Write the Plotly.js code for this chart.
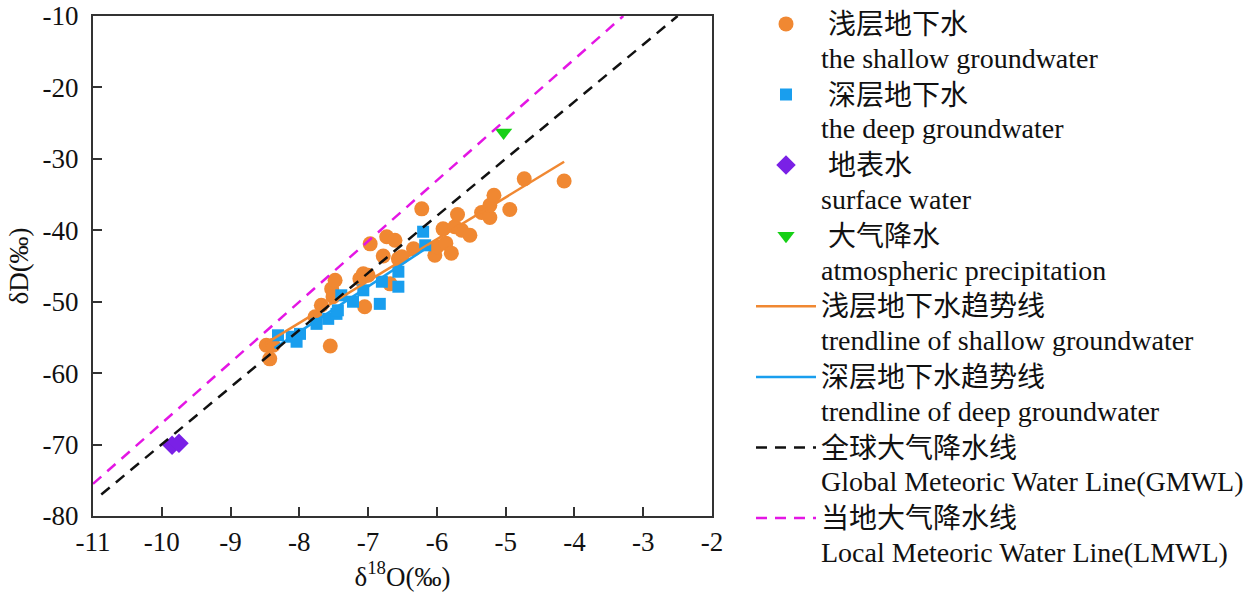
<!DOCTYPE html>
<html>
<head>
<meta charset="utf-8">
<script src="https://cdn.plot.ly/plotly-3.0.1.min.js"></script>
<style>
  html, body { margin: 0; padding: 0; background: #fff; }
  #chart { width: 1259px; height: 592px; }
</style>
</head>
<body>
<div id="chart"></div>
<script>
// ---- data (δ18O ‰, δD ‰) ----
const shallowX = [-8.48, -8.38, -8.43, -7.55, -7.77, -7.68, -7.53, -7.51, -7.48, -7.05,
                  -7.07, -7.00, -7.12, -6.97, -6.73, -6.61, -6.78, -6.56, -6.68, -6.22,
                  -6.34, -6.51, -6.03, -6.00, -5.87, -5.79, -5.91, -5.74, -5.64, -5.52,
                  -5.70, -5.35, -5.23, -5.23, -5.17, -4.94, -4.73, -4.15];
const shallowY = [-56.1, -56.1, -58.0, -56.2, -52.1, -50.5, -48.2, -49.3, -47.0, -50.7,
                  -46.1, -46.3, -46.8, -41.9, -40.9, -41.4, -43.6, -44.0, -47.5, -37.0,
                  -42.6, -43.7, -43.5, -42.3, -41.8, -43.2, -39.8, -39.5, -40.0, -40.7,
                  -37.8, -37.5, -38.2, -36.5, -35.1, -37.1, -32.8, -33.1];
const deepX = [-8.31, -8.11, -8.04, -7.99, -7.75, -7.58, -7.46, -7.44, -7.39, -7.22,
               -7.07, -6.83, -6.80, -6.56, -6.56, -6.20, -6.17];
const deepY = [-54.7, -54.9, -55.6, -54.5, -53.1, -52.4, -51.7, -51.2, -49.1, -50.0,
               -48.4, -50.3, -47.2, -47.9, -45.8, -40.2, -42.1];
const surfaceX = [-9.85, -9.75];
const surfaceY = [-70.1, -69.8];
const precipX = [-5.03];
const precipY = [-26.3];
const shallowTrendX = [-8.50, -4.15];
const shallowTrendY = [-55.9, -30.4];
const deepTrendX = [-8.36, -6.12];
const deepTrendY = [-56.5, -42.3];
const gmwlX = [-10.88, -2.50];
const gmwlY = [-77.0, -10.0];
const lmwlX = [-11.0, -3.29];
const lmwlY = [-75.5, -10.0];

const names = [
  ['浅层地下水', 'the shallow groundwater'],
  ['深层地下水', 'the deep groundwater'],
  ['地表水', 'surface water'],
  ['大气降水', 'atmospheric precipitation'],
  ['浅层地下水趋势线', 'trendline of shallow groundwater'],
  ['深层地下水趋势线', 'trendline of deep groundwater'],
  ['全球大气降水线', 'Global Meteoric Water Line(GMWL)'],
  ['当地大气降水线', 'Local Meteoric Water Line(LMWL)']
];
const xTicks = [-11, -10, -9, -8, -7, -6, -5, -4, -3, -2];
const yTicks = [-80, -70, -60, -50, -40, -30, -20, -10];

const cOrange = 'rgb(240,136,50)';
const cBlue = 'rgb(25,158,238)';
const cPurple = 'rgb(122,32,230)';
const cGreen = 'rgb(22,208,22)';
const cMagenta = 'rgb(228,22,228)';

function label(i, pad) {
  return '<span style="font-size:28px">' + pad + names[i][0] + '</span><br>' +
         '<span style="font-size:28px">' + names[i][1] + '</span>';
}

const traces = [
  { x: shallowX, y: shallowY, type: 'scatter', mode: 'markers', name: label(0, ' '),
    marker: { symbol: 'circle', size: 15, color: cOrange } },
  { x: deepX, y: deepY, type: 'scatter', mode: 'markers', name: label(1, ' '),
    marker: { symbol: 'square', size: 12, color: cBlue } },
  { x: surfaceX, y: surfaceY, type: 'scatter', mode: 'markers', name: label(2, ' '),
    marker: { symbol: 'diamond', size: 15, color: cPurple } },
  { x: precipX, y: precipY, type: 'scatter', mode: 'markers', name: label(3, ' '),
    marker: { symbol: 'triangle-down', size: 15, color: cGreen } },
  { x: shallowTrendX, y: shallowTrendY, type: 'scatter', mode: 'lines', name: label(4, ''),
    line: { color: cOrange, width: 2.5 } },
  { x: deepTrendX, y: deepTrendY, type: 'scatter', mode: 'lines', name: label(5, ''),
    line: { color: cBlue, width: 2.5 } },
  { x: gmwlX, y: gmwlY, type: 'scatter', mode: 'lines', name: label(6, ''),
    line: { color: '#111', width: 2.5, dash: '11px,8px' } },
  { x: lmwlX, y: lmwlY, type: 'scatter', mode: 'lines', name: label(7, ''),
    line: { color: cMagenta, width: 2.5, dash: '11px,8px' } }
];

const fontFam = '"Liberation Serif", "Times New Roman", "Noto Sans CJK SC", serif';

const axisCommon = {
  showgrid: false, zeroline: false,
  showline: true, linecolor: '#333', linewidth: 2, mirror: true,
  ticks: 'inside', ticklen: 9, tickwidth: 2, tickcolor: '#333',
  tickfont: { family: fontFam, size: 27, color: '#111' }
};

const layout = {
  width: 1259, height: 592,
  margin: { l: 93, r: 547, t: 16, b: 76, autoexpand: false },
  paper_bgcolor: '#fff', plot_bgcolor: '#fff',
  font: { family: fontFam, color: '#111' },
  xaxis: Object.assign({}, axisCommon, {
    range: [-11, -2], tickvals: xTicks, ticktext: xTicks.map(String),
    ticklabelstandoff: 1,
    title: { text: 'δ<sup>18</sup>O(‰)', font: { family: fontFam, size: 27, color: '#111' }, standoff: 6 }
  }),
  yaxis: Object.assign({}, axisCommon, {
    range: [-80, -10], tickvals: yTicks, ticktext: yTicks.map(String),
    ticklabelstandoff: 7,
    title: { text: 'δD(‰)', font: { family: fontFam, size: 27, color: '#111' }, standoff: 6 }
  }),
  showlegend: true,
  legend: {
    x: 1.063, xanchor: 'left', y: 1.031, yanchor: 'top',
    font: { family: fontFam, size: 26, color: '#111' },
    itemwidth: 60, valign: 'top', bgcolor: 'rgba(0,0,0,0)', borderwidth: 0,
    tracegroupgap: 0, maxheight: 600
  }
};

Plotly.newPlot('chart', traces, layout, { displayModeBar: false, staticPlot: true });
</script>
</body>
</html>
